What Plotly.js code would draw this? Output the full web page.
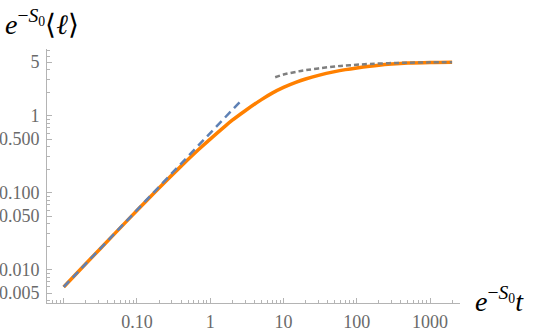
<!DOCTYPE html>
<html>
<head>
<meta charset="utf-8">
<script src="https://cdn.plot.ly/plotly-3.0.1.min.js"></script>
<style>html,body{margin:0;padding:0;background:#fff;}#chart{width:540px;height:331px;}</style>
</head>
<body>
<div id="chart"></div>
<script>
// Full curve e^{-S0}<l> versus e^{-S0} t
var tFull = [0.01, 0.02, 0.05, 0.1, 0.2, 0.4, 0.7, 1, 1.5, 2, 3, 5, 7, 10, 15, 20, 30, 50, 70, 100, 150, 200, 300, 500, 1000, 2000];
var lFull = [0.006, 0.012, 0.0298, 0.059, 0.116, 0.223, 0.37, 0.5, 0.7, 0.88, 1.17, 1.63, 1.98, 2.35, 2.75, 3.02, 3.37, 3.77, 4.0, 4.21, 4.43, 4.57, 4.72, 4.86, 4.96, 5.0];
// Early-time (linear) asymptote
var tEarly = [0.01, 2.75];
var lEarly = [0.006, 1.65];
// Late-time asymptote
var tLate = [7.7, 10, 15, 20, 30, 50, 80, 150, 400, 1000, 2000];
var lLate = [3.18, 3.45, 3.75, 3.93, 4.15, 4.4, 4.56, 4.74, 4.9, 4.97, 5.0];
// Tick labels
var xTickVals = [0.01, 0.1, 1, 10, 100, 1000];
var xTickText = ['', '0.10', '1', '10', '100', '1000'];
var yTickVals = [0.005, 0.01, 0.05, 0.1, 0.5, 1, 5];
var yTickText = ['0.005', '0.010', '0.050', '0.100', '0.500', '1', '5'];

function minorTicks(lo, hi, skip) {
  var out = [];
  for (var n = lo; n <= hi; n++) {
    for (var k = 2; k <= 9; k++) {
      if (skip.indexOf(k) < 0) out.push(k * Math.pow(10, n));
    }
  }
  return out;
}

var axisColor = '#b4b4b4';
var serif = 'Liberation Serif';
var tickFont = {family: serif, size: 18, color: '#6a6a6a'};

var traces = [
  {x: tFull, y: lFull, mode: 'lines', line: {color: '#ff8000', width: 3.5, shape: 'spline'}, hoverinfo: 'skip'},
  {x: tEarly, y: lEarly, mode: 'lines', line: {color: '#5e81b5', width: 2.5, dash: '8px,5px'}, hoverinfo: 'skip'},
  {x: tLate, y: lLate, mode: 'lines', line: {color: '#7f7f7f', width: 2.5, dash: '5px,3px', shape: 'spline'}, hoverinfo: 'skip'}
];

var layout = {
  width: 540, height: 331,
  margin: {l: 47, r: 80, t: 49, b: 28, pad: 0},
  paper_bgcolor: '#fff', plot_bgcolor: '#fff',
  showlegend: false,
  font: {family: serif},
  xaxis: {
    type: 'log', range: [-2.228, 3.409], autorange: false,
    showgrid: false, zeroline: false, showline: true, linecolor: axisColor, linewidth: 1,
    ticks: 'inside', ticklen: 5, tickcolor: axisColor, tickwidth: 1,
    tickvals: xTickVals, ticktext: xTickText, tickfont: tickFont, ticklabelstandoff: 2,
    minor: {tickvals: minorTicks(-3, 3, []), ticks: 'inside', ticklen: 3, tickcolor: axisColor},
    fixedrange: true
  },
  yaxis: {
    type: 'log', range: [-2.43, 0.87], autorange: false,
    showgrid: false, zeroline: false, showline: true, linecolor: axisColor, linewidth: 1,
    ticks: 'inside', ticklen: 5, tickcolor: axisColor, tickwidth: 1,
    tickvals: yTickVals, ticktext: yTickText, tickfont: tickFont, ticklabelstandoff: 3,
    minor: {tickvals: minorTicks(-3, 1, [5]), ticks: 'inside', ticklen: 3, tickcolor: axisColor},
    fixedrange: true
  },
  annotations: [
    {xref: 'paper', yref: 'paper', x: -0.107, y: 1.106, xanchor: 'left', yanchor: 'middle', showarrow: false,
     text: '<i>e</i><sup>\u2212<i>S</i><sub>0</sub></sup>\u27e8<i>\u2113</i>\u27e9',
     font: {family: serif, size: 28, color: '#000'}},
    {xref: 'paper', yref: 'paper', x: 1.031, y: 0.012, xanchor: 'left', yanchor: 'middle', showarrow: false,
     text: '<i>e</i><sup>\u2212<i>S</i><sub>0</sub></sup><i>t</i>',
     font: {family: serif, size: 28, color: '#000'}}
  ]
};

Plotly.newPlot('chart', traces, layout, {staticPlot: true, displayModeBar: false});
</script>
</body>
</html>
